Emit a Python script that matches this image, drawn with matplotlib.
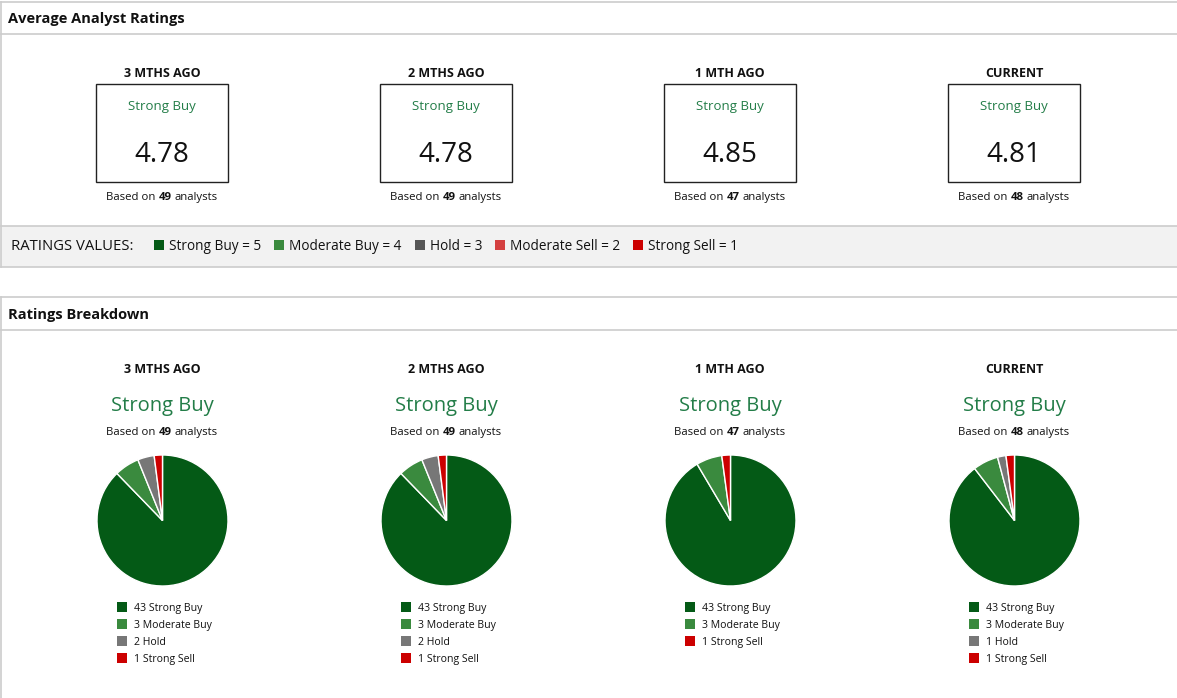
import matplotlib
matplotlib.use("Agg")
import matplotlib.pyplot as plt
from matplotlib.patches import Rectangle

plt.rcParams['font.family'] = ['Open Sans', 'DejaVu Sans']

# ---------------- data ----------------
periods = ["3 MTHS AGO", "2 MTHS AGO", "1 MTH AGO", "CURRENT"]
avg_ratings = [4.78, 4.78, 4.85, 4.81]
analyst_counts = [49, 49, 47, 48]
consensus = ["Strong Buy", "Strong Buy", "Strong Buy", "Strong Buy"]

rating_names = ["Strong Buy", "Moderate Buy", "Hold", "Moderate Sell", "Strong Sell"]
rating_values = [5, 4, 3, 2, 1]

strong_buy = [43, 43, 43, 43]
moderate_buy = [3, 3, 3, 3]
hold = [2, 2, 0, 1]
moderate_sell = [0, 0, 0, 0]
strong_sell = [1, 1, 1, 1]

# ---------------- style ----------------
pie_colors = ["#045a16", "#3a8a3e", "#777777", "#d44040", "#cc0000"]
key_colors = ["#045a16", "#3a8a3e", "#555555", "#d44040", "#cc0000"]
green_text = "#237d48"
border = "#cccccc"
W, H = 1177, 698
CAP = 0.714  # Open Sans cap height / em

fig = plt.figure(figsize=(W / 100, H / 100), dpi=100)
ax = fig.add_axes([0, 0, 1, 1])
ax.set_xlim(0, W)
ax.set_ylim(H, 0)
ax.axis("off")
renderer = fig.canvas.get_renderer()


def T(x, yc, s, size, ha="left", **kw):
    """Place text so that its cap height is centred on yc (pixels)."""
    base = yc + CAP * size * 100 / 72 / 2
    kw.setdefault("color", "#111111")
    return ax.text(x, base, s, fontsize=size, ha=ha, va="baseline", **kw)


def text_width(s, **kw):
    t = ax.text(0, 0, s, **kw)
    w = t.get_window_extent(renderer).width
    t.remove()
    return w


def mixed(xc, yc, parts, size):
    sp = text_width("x x", fontsize=size) - text_width("xx", fontsize=size)
    widths = [text_width(s, fontsize=size, fontweight=wt) for s, wt in parts]
    total = sum(widths) + sp * (len(parts) - 1)
    x = xc - total / 2
    for (s, wt), w in zip(parts, widths):
        T(x, yc, s, size, fontweight=wt)
        x += w + sp


# ---------------- top panel ----------------
ax.add_patch(Rectangle((1, 226), W, 41, facecolor="#f2f2f2", edgecolor="none"))
for yy in (2, 34, 226, 267):
    ax.plot([1, W], [yy, yy], color=border, lw=1.2)
ax.plot([1, 1], [2, 267], color=border, lw=1.2)
T(8, 18, "Average Analyst Ratings", 10.5, fontweight="bold")

centers = [162, 446, 730, 1014]
for i, xc in enumerate(centers):
    T(xc, 73, periods[i], 9, ha="center", fontweight="bold")
    ax.add_patch(Rectangle((xc - 66, 84), 132, 98, facecolor="white",
                           edgecolor="#222222", lw=1))
    T(xc, 105, consensus[i], 9.5, ha="center", color=green_text)
    T(xc, 152.5, f"{avg_ratings[i]:.2f}", 20, ha="center")
    mixed(xc, 196, [("Based on", "normal"), (str(analyst_counts[i]), "bold"),
                    ("analysts", "normal")], 8.2)

# ratings key
T(11, 245, "RATINGS VALUES:", 10.7)
x = 154
for name, val, col in zip(rating_names, rating_values, key_colors):
    ax.add_patch(Rectangle((x, 240), 10, 10, facecolor=col, edgecolor="none"))
    lab = f"{name} = {val}"
    T(x + 15, 245, lab, 9.8)
    x += 15 + text_width(lab, fontsize=9.8) + 13

# ---------------- bottom panel ----------------
for yy in (297, 330):
    ax.plot([1, W], [yy, yy], color=border, lw=1.2)
ax.plot([1, 1], [297, H], color=border, lw=1.2)
T(8, 314, "Ratings Breakdown", 10.5, fontweight="bold")

pie_r = 65.5
pie_cy = 520.5
for i, xc in enumerate(centers):
    T(xc, 369, periods[i], 9, ha="center", fontweight="bold")
    T(xc, 403.5, consensus[i], 14.5, ha="center", color=green_text)
    mixed(xc, 431, [("Based on", "normal"), (str(analyst_counts[i]), "bold"),
                    ("analysts", "normal")], 8.2)

    counts = [strong_buy[i], moderate_buy[i], hold[i], moderate_sell[i], strong_sell[i]]
    vals = [c for c in counts if c > 0]
    cols = [pie_colors[k] for k, c in enumerate(counts) if c > 0]
    names = [rating_names[k] for k, c in enumerate(counts) if c > 0]

    pax = fig.add_axes([(xc + 0.5 - pie_r) / W, (H - pie_cy - pie_r) / H,
                        2 * pie_r / W, 2 * pie_r / H])
    pax.pie(vals, colors=cols, startangle=90, counterclock=False,
            wedgeprops=dict(edgecolor="white", linewidth=1))
    pax.set_xlim(-1, 1)
    pax.set_ylim(-1, 1)
    pax.set_aspect("equal")
    pax.axis("off")

    ly = 607
    for v, c, n in zip(vals, cols, names):
        ax.add_patch(Rectangle((xc - 45, ly - 5), 10, 10, facecolor=c, edgecolor="none"))
        T(xc - 28, ly, f"{v} {n}", 7.6)
        ly += 17

fig.savefig("out.png", dpi=100, facecolor="white")
